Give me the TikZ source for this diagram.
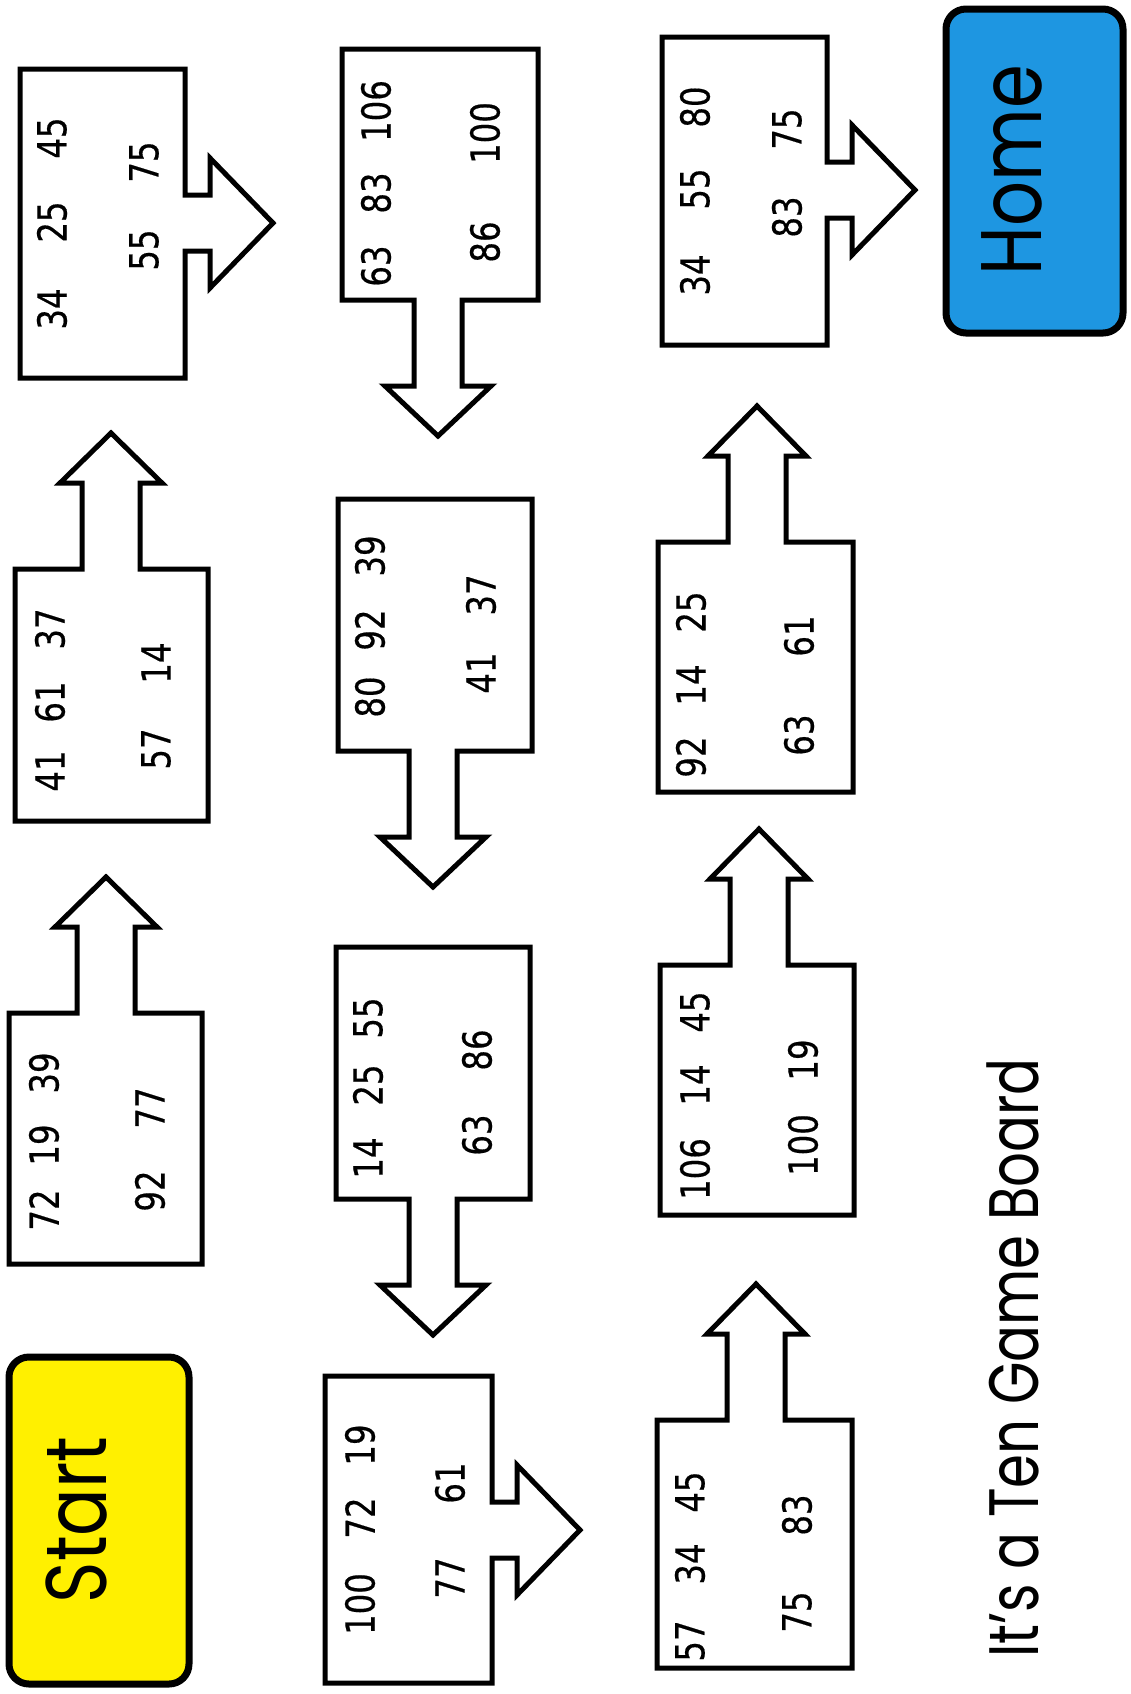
\documentclass[tikz,border=0pt]{standalone}
\usepackage{fontspec}
\newfontfamily\numfont[FakeStretch=0.81,FakeBold=0.4]{DejaVu Sans}
\newfontfamily\headfont[FakeStretch=0.82]{Poppins}
\newfontfamily\titlefont[FakeStretch=0.78]{Poppins}
\definecolor{startyellow}{RGB}{255,240,0}
\definecolor{homeblue}{RGB}{30,150,225}
% up-arrow box: x0,y0,x1,y1,cx,shaft half,head half
\newcommand\BoardUp[7]{%
  \draw[board] (#1,#4) -- (#1,#2) -- ({#5-#6},#2) -- ({#5-#6},{#2-86}) -- ({#5-#7},{#2-86}) -- (#5,{#2-136})
   -- ({#5+#7},{#2-86}) -- ({#5+#6},{#2-86}) -- ({#5+#6},#2) -- (#3,#2) -- (#3,#4) -- cycle;}
\newcommand\BoardDown[7]{%
  \draw[board] (#1,#2) -- (#3,#2) -- (#3,#4) -- ({#5+#6},#4) -- ({#5+#6},{#4+86}) -- ({#5+#7},{#4+86}) -- (#5,{#4+136})
   -- ({#5-#7},{#4+86}) -- ({#5-#6},{#4+86}) -- ({#5-#6},#4) -- (#1,#4) -- cycle;}
\newcommand\BoardRight[7]{%
  \draw[board] (#1,#2) -- (#3,#2) -- (#3,{#5-#6}) -- ({#3+25},{#5-#6}) -- ({#3+25},{#5-#7}) -- ({#3+88},#5)
   -- ({#3+25},{#5+#7}) -- ({#3+25},{#5+#6}) -- (#3,{#5+#6}) -- (#3,#4) -- (#1,#4) -- cycle;}
\begin{document}
\begin{tikzpicture}[x=0.5pt,y=-0.5pt,
  board/.style={draw=black, line width=2.5pt, line join=miter, fill=white},
  num/.style={font=\numfont\fontsize{20}{22}\selectfont, rotate=90, inner sep=0pt},
  goal/.style={draw=black, line width=3.5pt, rounded corners=10pt},
  goaltext/.style={font=\headfont\fontsize{43}{50}\selectfont, rotate=90, inner sep=0pt},
  titletext/.style={font=\titlefont\fontsize{35}{40}\selectfont, rotate=90, inner sep=0pt}]
\useasboundingbox[fill=white] (0,0) rectangle (1131,1694);

% Start and Home
\draw[goal, fill=startyellow] (9,1357) rectangle (189,1684);
\node[goaltext] (start) at (77,1520) {Start};
\draw[goal, fill=homeblue] (946,9) rectangle (1123,333);
\node[goaltext] (home) at (1012,170) {Home};
\node[titletext] (title) at (1013,1358) {It’s a Ten Game Board};

% boxes
\BoardRight{20}{69}{185}{378}{223}{28}{65}
\BoardRight{325}{1376}{492}{1683}{1530}{28}{65}
\BoardRight{662}{37}{827}{345}{190}{28}{65}
\BoardUp{9}{1013}{202}{1264}{106}{29}{51}
\BoardUp{15}{569}{208}{821}{111}{29}{51}
\BoardDown{342}{49}{538}{300}{438}{24}{53}
\BoardDown{338}{499}{532}{751}{433}{24}{53}
\BoardDown{336}{947}{530}{1199}{433}{24}{53}
\BoardUp{657}{1420}{852}{1668}{756}{29}{49}
\BoardUp{660}{965}{854}{1215}{759}{29}{49}
\BoardUp{658}{542}{853}{792}{757}{29}{49}

% numbers
\node[num] (a1) at (52,309) {34};
\node[num] (a2) at (52,222) {25};
\node[num] (a3) at (52,138) {45};
\node[num] (a4) at (144,250) {55};
\node[num] (a5) at (144,162) {75};

\node[num] (b1) at (44,1210) {72};
\node[num] (b2) at (44,1145) {19};
\node[num] (b3) at (44,1073) {39};
\node[num] (b4) at (150,1191) {92};
\node[num] (b5) at (150,1108) {77};

\node[num] (c1) at (50,771) {41};
\node[num] (c2) at (50,702) {61};
\node[num] (c3) at (50,629) {37};
\node[num] (c4) at (156,749) {57};
\node[num] (c5) at (156,663) {14};

\node[num] (d1) at (376,266) {63};
\node[num] (d2) at (376,193) {83};
\node[num] (d3) at (376,111) {106};
\node[num] (d4) at (485,242) {86};
\node[num] (d5) at (485,133) {100};

\node[num] (e1) at (370,697) {80};
\node[num] (e2) at (370,630) {92};
\node[num] (e3) at (370,556) {39};
\node[num] (e4) at (481,673) {41};
\node[num] (e5) at (481,595) {37};

\node[num] (f1) at (368,1158) {14};
\node[num] (f2) at (368,1085) {25};
\node[num] (f3) at (368,1018) {55};
\node[num] (f4) at (477,1135) {63};
\node[num] (f5) at (477,1050) {86};

\node[num] (g1) at (360,1604) {100};
\node[num] (g2) at (360,1518) {72};
\node[num] (g3) at (360,1445) {19};
\node[num] (g4) at (450,1578) {77};
\node[num] (g5) at (450,1483) {61};

\node[num] (h1) at (690,1641) {57};
\node[num] (h2) at (690,1564) {34};
\node[num] (h3) at (690,1492) {45};
\node[num] (h4) at (797,1612) {75};
\node[num] (h5) at (797,1515) {83};

\node[num] (i1) at (695,1169) {106};
\node[num] (i2) at (695,1085) {14};
\node[num] (i3) at (695,1012) {45};
\node[num] (i4) at (803,1145) {100};
\node[num] (i5) at (803,1060) {19};

\node[num] (j1) at (691,757) {92};
\node[num] (j2) at (691,685) {14};
\node[num] (j3) at (691,612) {25};
\node[num] (j4) at (799,735) {63};
\node[num] (j5) at (799,636) {61};

\node[num] (k1) at (695,275) {34};
\node[num] (k2) at (695,189) {55};
\node[num] (k3) at (695,107) {80};
\node[num] (k4) at (787,217) {83};
\node[num] (k5) at (787,129) {75};
\end{tikzpicture}
\end{document}
